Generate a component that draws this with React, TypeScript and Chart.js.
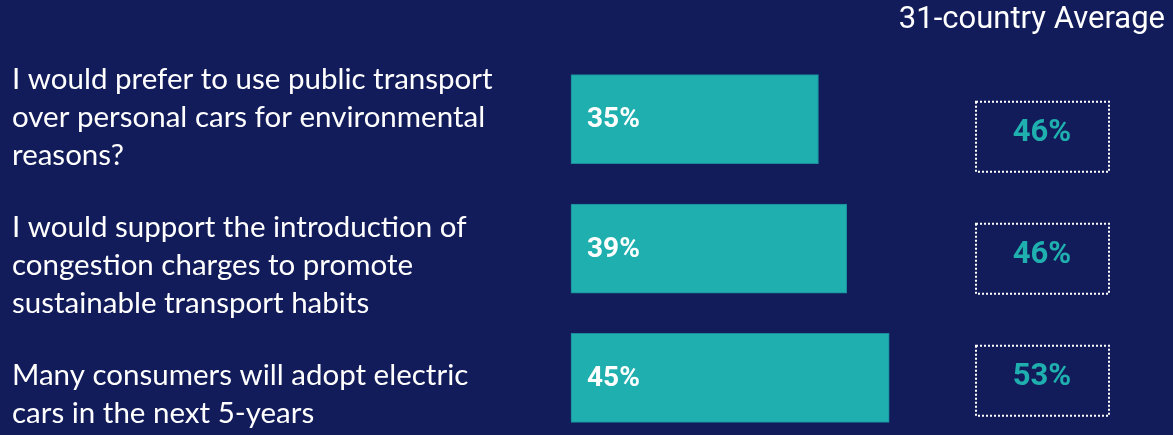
import React, { useEffect, useRef } from "react";
import { Chart, registerables } from "chart.js";

Chart.register(...registerables);

const headerText = "31-country Average";
const categories: string[][] = [
  ["I would prefer to use public transport", "over personal cars for environmental", "reasons?"],
  ["I would support the introduction of", "congestion charges to promote", "sustainable transport habits"],
  ["Many consumers will adopt electric", "cars in the next 5-years"],
];
const countryValues = [35, 39, 45];
const averageValues = [46, 46, 53];

const BG = "#121C5A";
const TEAL = "#1FAFAF";

const overlayPlugin = {
  id: "overlay",
  afterDatasetsDraw(chart: any) {
    const { ctx } = chart;
    const meta = chart.getDatasetMeta(0);
    ctx.save();
    // value labels inside bars
    ctx.font = "700 28px Roboto";
    ctx.fillStyle = "#FFFFFF";
    ctx.textAlign = "left";
    ctx.textBaseline = "middle";
    meta.data.forEach((bar: any, i: number) => {
      ctx.fillText(`${countryValues[i]}%`, bar.base + 16, bar.y + 1);
    });
    // average boxes
    const yAvg = chart.scales.yAvg;
    averageValues.forEach((v, i) => {
      const cy = yAvg.getPixelForValue(i);
      ctx.setLineDash([2, 2]);
      ctx.lineWidth = 2;
      ctx.strokeStyle = "#FFFFFF";
      ctx.strokeRect(976, cy - 35, 133, 70);
      ctx.setLineDash([]);
      ctx.font = "700 31px Roboto";
      ctx.fillStyle = TEAL;
      ctx.textAlign = "center";
      ctx.textBaseline = "middle";
      ctx.fillText(`${v}%`, 1042, cy - 4);
    });
    ctx.restore();
  },
};

export default function App() {
  const ref = useRef<HTMLCanvasElement>(null);
  useEffect(() => {
    document.body.style.margin = "0";
    const chart = new Chart(ref.current!, {
      type: "bar",
      data: {
        labels: categories.map((c) => c.join(" ")),
        datasets: [
          {
            data: countryValues,
            backgroundColor: TEAL,
            borderColor: "#1B8A9C",
            borderWidth: 1,
            borderSkipped: false,
            barThickness: 89,
            clip: false,
          } as any,
        ],
      },
      options: {
        indexAxis: "y",
        animation: false,
        responsive: false,
        maintainAspectRatio: false,
        layout: { padding: { left: 12, right: 8, top: 2, bottom: 56 } },
        plugins: {
          legend: { display: false },
          tooltip: { enabled: false },
          title: {
            display: true,
            text: headerText,
            align: "end",
            color: "#FFFFFF",
            font: { family: "Roboto", size: 31, weight: "400", lineHeight: 1.2 },
            padding: { top: 0, bottom: 80 },
          },
        },
        scales: {
          x: { display: false, min: 0, max: 84 },
          y: {
            type: "category",
            offset: false,
            grid: { display: false },
            border: { display: false },
            ticks: {
              autoSkip: false,
              crossAlign: "far",
              padding: 0,
              labelOffset: -2,
              color: "#FFFFFF",
              font: { family: "Lato", size: 29.5, lineHeight: 1.29 },
              callback: (_v: any, i: number) => (i > 0 ? ["", ...categories[i]] : categories[i]),
            },
            afterFit: (scale: any) => {
              scale.width = 559;
            },
          },
          yAvg: {
            type: "linear",
            display: false,
            offset: false,
            reverse: true,
            bounds: "data",
            min: -0.144,
            max: 1.976,
          },
        },
      } as any,
      plugins: [overlayPlugin],
    });
    return () => chart.destroy();
  }, []);
  return (
    <div style={{ position: "fixed", left: 0, top: 0, width: 1173, height: 435, background: BG }}>
      <canvas ref={ref} width={1173} height={435} style={{ display: "block" }} />
    </div>
  );
}
